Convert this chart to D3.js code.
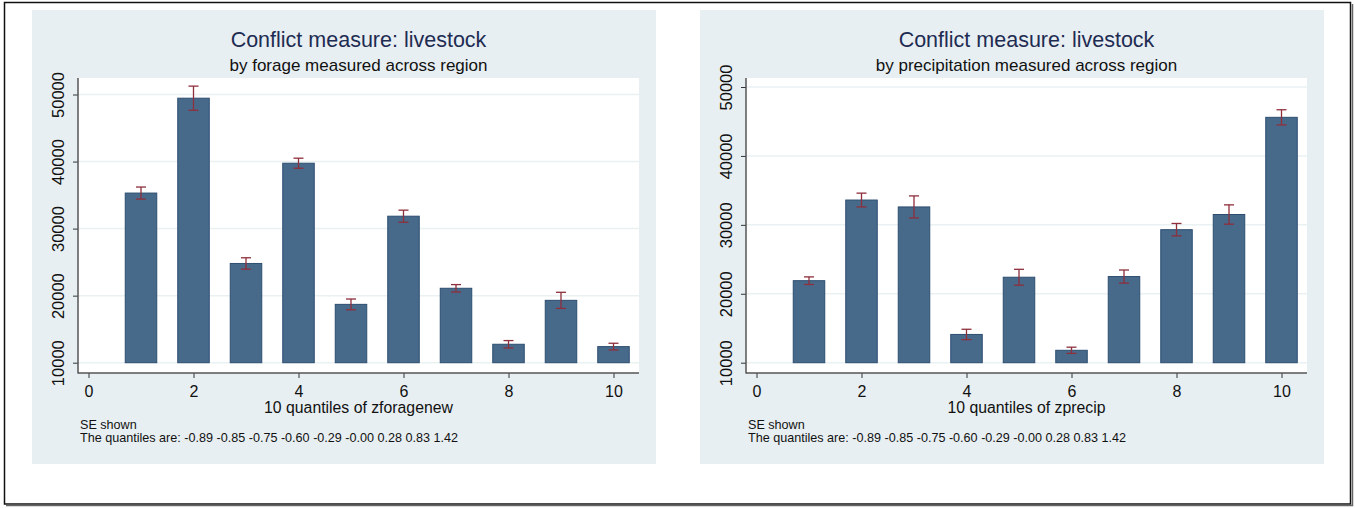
<!DOCTYPE html>
<html>
<head>
<meta charset="utf-8">
<script src="https://cdn.jsdelivr.net/npm/d3@7"></script>
<style>
  body { margin: 0; background: #fff; }
  svg { display: block; font-family: "Liberation Sans", Arial, sans-serif; }
</style>
</head>
<body>
<div id="chart"></div>
<script>
// quantile bins (x) and group means with standard errors
const quantiles = [1, 2, 3, 4, 5, 6, 7, 8, 9, 10];
const forageMean = [35300, 49450, 24800, 39750, 18700, 31850, 21100, 12750, 19300, 12400];
const forageSE = [900, 1800, 850, 750, 800, 900, 550, 550, 1200, 500];
const precipMean = [21900, 33600, 32600, 14100, 22400, 11800, 22500, 29300, 31500, 45600];
const precipSE = [550, 1000, 1600, 750, 1150, 450, 950, 900, 1400, 1100];

const yTicks = [10000, 20000, 30000, 40000, 50000];
const xTicks = [0, 2, 4, 6, 8, 10];
const cutoffs = ['-0.89', '-0.85', '-0.75', '-0.60', '-0.29', '-0.00', '0.28', '0.83', '1.42'];
const barBase = 10000;

const panels = [
    { x0: 32, subtitle: 'by forage measured across region', xTitle: '10 quantiles of zforagenew',
      mean: forageMean, se: forageSE, y50k: 94.5 },
    { x0: 700, subtitle: 'by precipitation measured across region', xTitle: '10 quantiles of zprecip',
      mean: precipMean, se: precipSE, y50k: 87 },
];

const W = 1355, H = 508;
const svg = d3.select('#chart').append('svg').attr('width', W).attr('height', H);

// outer frame
svg.append('rect').attr('x', 4.5).attr('y', 2.5).attr('width', 1346).attr('height', 501.5)
    .attr('fill', 'none').attr('stroke', '#111').attr('stroke-width', 1.5);
svg.append('path').attr('d', 'M6,505.5H1352.5V4').attr('fill', 'none').attr('stroke', '#666').attr('stroke-width', 1.5);

panels.forEach((p) => {
    const g = svg.append('g').attr('transform', `translate(${p.x0},0)`);
    const plot = { left: 46, right: 607, top: 78, bottom: 373 };

    g.append('rect').attr('x', 0).attr('y', 10).attr('width', 624).attr('height', 454).attr('fill', '#e8eff2');
    g.append('rect').attr('x', plot.left).attr('y', plot.top)
        .attr('width', plot.right - plot.left).attr('height', plot.bottom - plot.top).attr('fill', '#fff');

    const x = d3.scaleLinear().domain([0, 10]).range([plot.left + 10.5, plot.left + 535.5]);
    const y = d3.scaleLinear().domain([10000, 50000]).range([362.7, p.y50k]);

    // grid
    g.selectAll('line.grid').data(yTicks).enter().append('line')
        .attr('class', 'grid')
        .attr('x1', plot.left).attr('x2', plot.right)
        .attr('y1', (d) => y(d)).attr('y2', (d) => y(d))
        .attr('stroke', '#eaf1f3').attr('stroke-width', 1.5);

    // bars
    g.selectAll('rect.bar').data(quantiles).enter().append('rect')
        .attr('class', 'bar')
        .attr('x', (d) => x(d - 0.3))
        .attr('width', (d) => x(d + 0.3) - x(d - 0.3))
        .attr('y', (d, i) => y(p.mean[i]))
        .attr('height', (d, i) => y(barBase) - y(p.mean[i]))
        .attr('fill', '#476a8b').attr('stroke', '#2d4e70').attr('stroke-width', 1);

    // SE whiskers
    const eb = g.selectAll('g.se').data(quantiles).enter().append('g').attr('class', 'se')
        .attr('stroke', '#8e2f3b').attr('stroke-width', 1.3);
    eb.append('line')
        .attr('x1', (d) => x(d)).attr('x2', (d) => x(d))
        .attr('y1', (d, i) => y(p.mean[i] - p.se[i])).attr('y2', (d, i) => y(p.mean[i] + p.se[i]));
    [-1, 1].forEach((s) => {
        eb.append('line')
            .attr('x1', (d) => x(d) - 5).attr('x2', (d) => x(d) + 5)
            .attr('y1', (d, i) => y(p.mean[i] + s * p.se[i])).attr('y2', (d, i) => y(p.mean[i] + s * p.se[i]));
    });

    // axes
    const yAxis = g.append('g').attr('transform', `translate(${plot.left},0)`)
        .call(d3.axisLeft(y).tickValues(yTicks).tickSize(5).tickFormat(d3.format('d')));
    yAxis.select('.domain').remove();
    yAxis.selectAll('.tick line').attr('stroke', '#333');
    yAxis.selectAll('.tick text')
        .attr('transform', 'rotate(-90)').attr('x', 0).attr('y', -20).attr('dy', '0.36em')
        .attr('text-anchor', 'middle').attr('fill', '#111').style('font-size', '16.5px');

    const xAxis = g.append('g').attr('transform', `translate(0,${plot.bottom})`)
        .call(d3.axisBottom(x).tickValues(xTicks).tickSize(5).tickPadding(8));
    xAxis.select('.domain').remove();
    xAxis.selectAll('.tick line').attr('stroke', '#333');
    xAxis.selectAll('.tick text').attr('fill', '#111').style('font-size', '16px');

    g.append('line').attr('x1', plot.left).attr('x2', plot.left).attr('y1', plot.top).attr('y2', plot.bottom + 0.5)
        .attr('stroke', '#555').attr('stroke-width', 1.5);
    g.append('line').attr('x1', plot.left).attr('x2', plot.right).attr('y1', plot.bottom).attr('y2', plot.bottom)
        .attr('stroke', '#555').attr('stroke-width', 1.5);

    // titles
    const cx = (plot.left + plot.right) / 2;
    g.append('text').attr('x', cx).attr('y', 47).attr('text-anchor', 'middle')
        .attr('fill', '#1e2c52').style('font-size', '21.5px').text('Conflict measure: livestock');
    g.append('text').attr('x', cx).attr('y', 71).attr('text-anchor', 'middle')
        .attr('fill', '#111').style('font-size', '17px').text(p.subtitle);
    g.append('text').attr('x', cx).attr('y', 413).attr('text-anchor', 'middle')
        .attr('fill', '#111').style('font-size', '15.8px').text(p.xTitle);

    // notes
    g.append('text').attr('x', 48).attr('y', 429).attr('fill', '#111').style('font-size', '12.6px').text('SE shown');
    g.append('text').attr('x', 48).attr('y', 442).attr('fill', '#111').style('font-size', '12.6px')
        .text('The quantiles are: ' + cutoffs.join(' '));
});
</script>
</body>
</html>
